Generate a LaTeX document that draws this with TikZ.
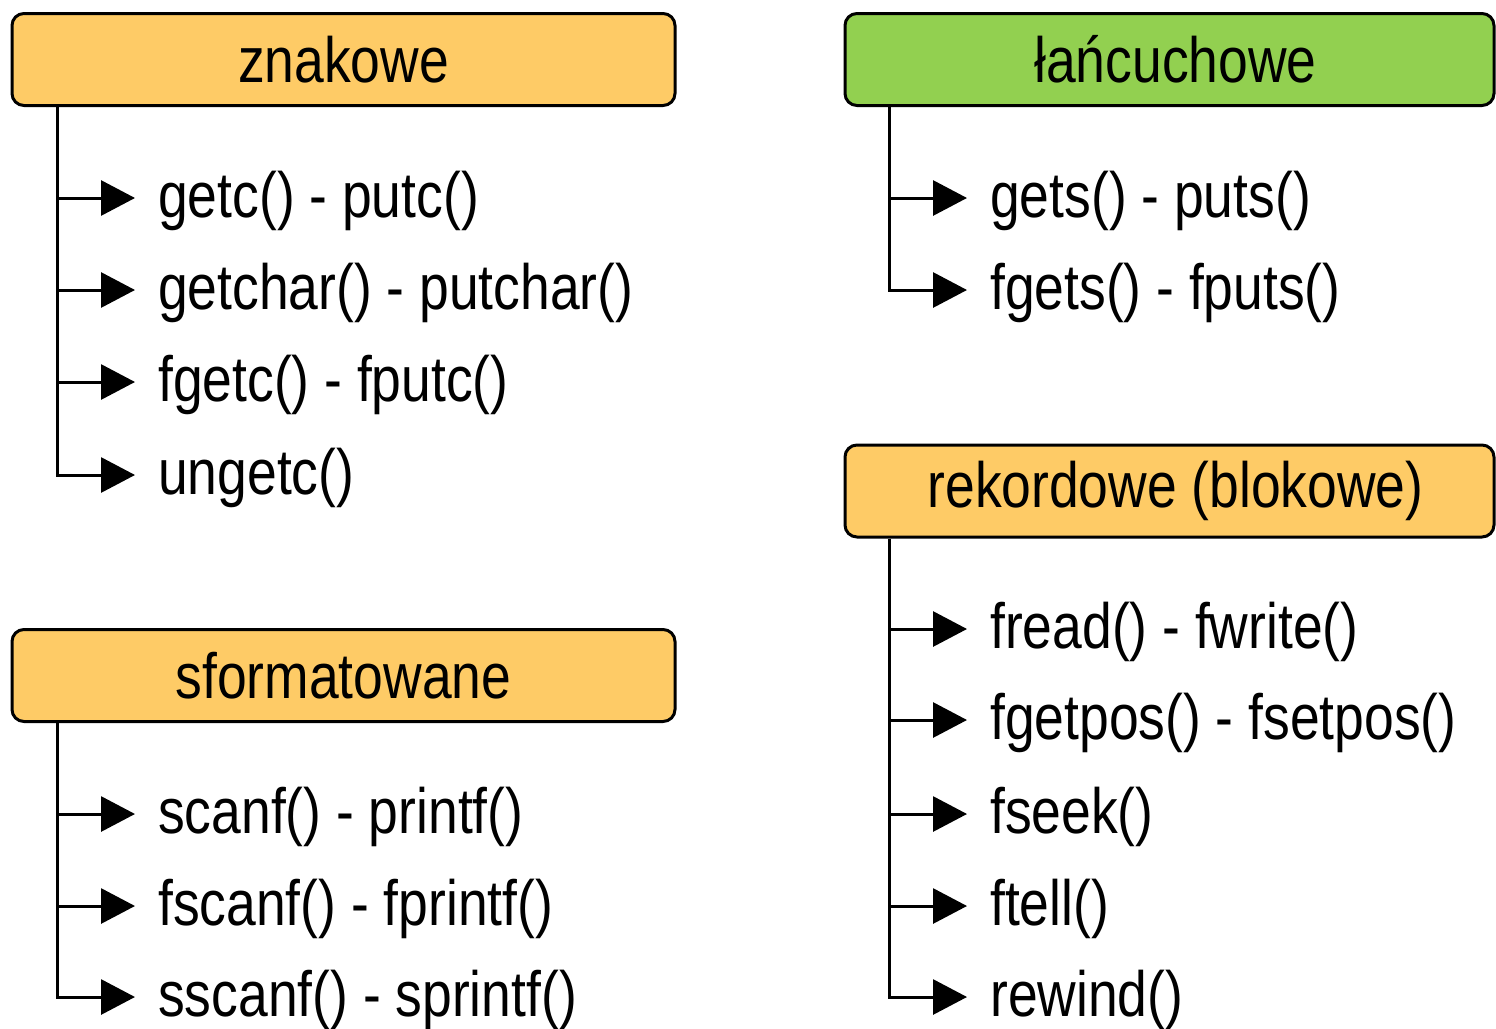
\documentclass[tikz,border=0pt]{standalone}
\usepackage{fontspec}
\setmainfont{Liberation Sans}[FakeStretch=0.835]
\usetikzlibrary{arrows.meta}
\definecolor{hdrorange}{RGB}{254,203,102}
\definecolor{hdrgreen}{RGB}{146,208,80}
\begin{document}
\begin{tikzpicture}[x=1pt,y=-1pt,
  hdr/.style={draw=black,line width=3pt,rounded corners=12pt,minimum height=92pt,inner sep=0pt,
    font=\fontsize{64}{70}\selectfont},
  item/.style={anchor=west,inner sep=0pt,font=\fontsize{64}{70}\selectfont},
  arr/.style={line width=3pt,-{Triangle[length=34pt,width=35pt]},line join=miter,shorten >=23pt}]
\useasboundingbox (0,0) rectangle (1496,1028);
% headers
\node[hdr,fill=hdrorange,minimum width=663pt] (h1) at (343.5,59.5) {znakowe};
\node[hdr,fill=hdrgreen,minimum width=649pt] (h2) at (1169.5,59.5) {\hspace*{12pt}łańcuchowe};
\node[hdr,fill=hdrorange,minimum width=663pt] (h3) at (343.5,675.5) {sformatowane};
\node[hdr,fill=hdrorange,minimum width=649pt] (h4) at (1169.5,491) {\hspace*{12pt}rekordowe (blokowe)};
% items group 1
\node[item] (a1) at (158,201) {getc() - putc()};
\node[item] (a2) at (158,293) {getchar() - putchar()};
\node[item] (a3) at (158,385) {fgetc() - fputc()};
\node[item] (a4) at (158,478) {ungetc()};
% items group 2
\node[item] (b1) at (990,201) {gets() - puts()};
\node[item] (b2) at (990,293) {fgets() - fputs()};
% items group 3
\node[item] (c1) at (158,817) {scanf() - printf()};
\node[item] (c2) at (158,909) {fscanf() - fprintf()};
\node[item] (c3) at (158,1000) {sscanf() - sprintf()};
% items group 4
\node[item] (d1) at (990,632) {fread() - fwrite()};
\node[item] (d2) at (990,723) {fgetpos() - fsetpos()};
\node[item] (d3) at (990,817) {fseek()};
\node[item] (d4) at (990,909) {ftell()};
\node[item] (d5) at (990,1000) {rewind()};
% trunks
\coordinate (t1) at ([xshift=47pt]h1.south west);
\coordinate (t2) at ([xshift=46pt]h2.south west);
\coordinate (t3) at ([xshift=47pt]h3.south west);
\coordinate (t4) at ([xshift=46pt]h4.south west);
\draw[arr] (t1) |- ([yshift=3pt]a4.west);
\foreach \n in {a1,a2,a3} \draw[arr] ([yshift=3pt]t1 |- \n.west) -- ([yshift=3pt]\n.west);
\draw[arr] (t2) |- ([yshift=3pt]b2.west);
\draw[arr] ([yshift=3pt]t2 |- b1.west) -- ([yshift=3pt]b1.west);
\draw[arr] (t3) |- ([yshift=3pt]c3.west);
\foreach \n in {c1,c2} \draw[arr] ([yshift=3pt]t3 |- \n.west) -- ([yshift=3pt]\n.west);
\draw[arr] (t4) |- ([yshift=3pt]d5.west);
\foreach \n in {d1,d2,d3,d4} \draw[arr] ([yshift=3pt]t4 |- \n.west) -- ([yshift=3pt]\n.west);
\end{tikzpicture}
\end{document}
